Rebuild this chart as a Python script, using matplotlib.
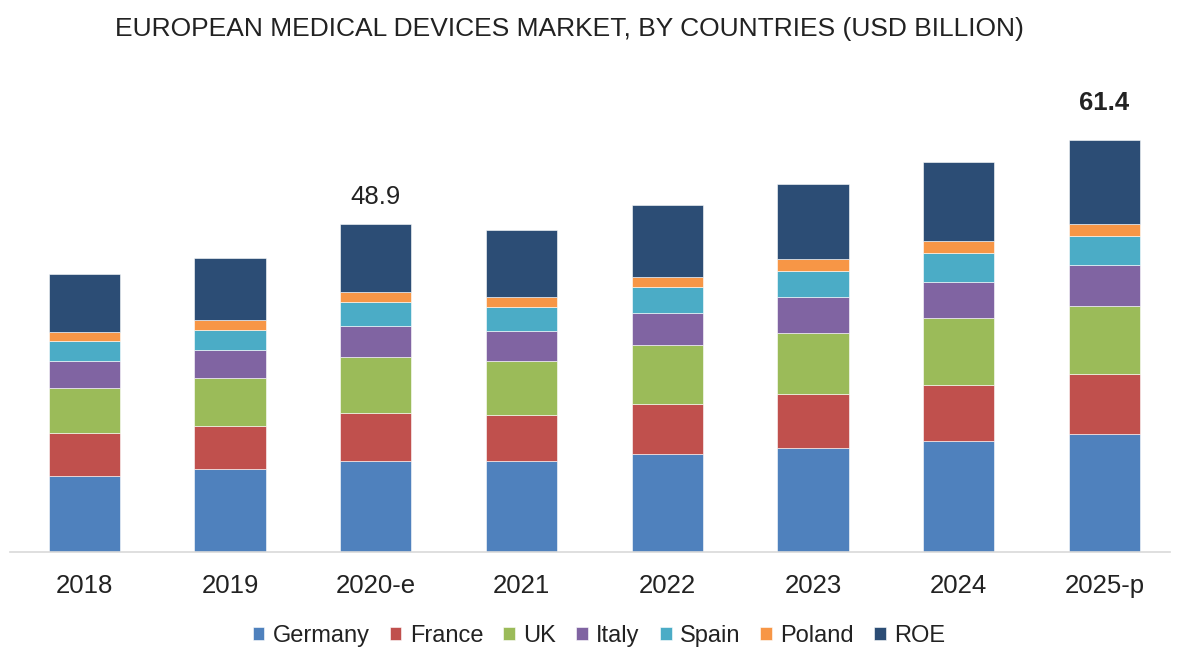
import matplotlib
matplotlib.use("Agg")
import matplotlib.pyplot as plt
from matplotlib import font_manager
import numpy as np

categories = ["2018", "2019", "2020-e", "2021", "2022", "2023", "2024", "2025-p"]
germany = [11.4, 12.3, 13.6, 13.55, 14.6, 15.55, 16.55, 17.55]
france  = [6.3, 6.45, 7.1, 6.85, 7.45, 7.95, 8.3, 8.95]
uk      = [6.8, 7.2, 8.35, 8.05, 8.8, 9.2, 9.95, 10.2]
italy   = [4.0, 4.2, 4.7, 4.5, 4.7, 5.35, 5.45, 6.05]
spain   = [2.9, 3.0, 3.5, 3.5, 3.9, 3.8, 4.3, 4.35]
poland  = [1.4, 1.4, 1.5, 1.55, 1.6, 1.85, 1.75, 1.75]
roe     = [8.7, 9.2, 10.2, 10.0, 10.7, 11.2, 11.85, 12.55]
series_names = ["Germany", "France", "UK", "Italy", "Spain", "Poland", "ROE"]
colors = ["#4F81BD", "#C0504D", "#9BBB59", "#8064A2", "#4BACC6", "#F79646", "#2C4D75"]
annotations = {2: ("48.9", "normal", 19), 7: ("61.4", "bold", 27)}

names = {f.name for f in font_manager.fontManager.ttflist}
fam = "Liberation Sans Narrow" if "Liberation Sans Narrow" in names else "Liberation Sans"
plt.rcParams["font.family"] = [fam, "DejaVu Sans"]

fig = plt.figure(figsize=(11.79, 6.53), dpi=100)
ax = fig.add_axes([10/1179, (653-552)/653, 1160/1179, 472/653])

x = np.arange(len(categories))
data = [germany, france, uk, italy, spain, poland, roe]
bottom = np.zeros(len(categories))
for name, vals, c in zip(series_names, data, colors):
    ax.bar(x, vals, 0.49, bottom=bottom, color=c, label=name,
           edgecolor="white", linewidth=0.4)
    bottom += np.array(vals)

for i, (txt, w, off) in annotations.items():
    ax.annotate(txt, (x[i], bottom[i]), xytext=(0, off), textcoords="offset points",
                ha="center", va="center", fontsize=18.5, fontweight=w, color="#222222")

ax.set_xlim(-0.51, 7.45)
ax.set_ylim(0, 472/6.71)
ax.set_xticks(x)
ax.set_xticklabels(categories, fontsize=18.5, color="#222222")
ax.tick_params(axis="x", length=0, pad=16)
ax.set_yticks([])
for s in ["top", "right", "left"]:
    ax.spines[s].set_visible(False)
ax.spines["bottom"].set_color("#d9d9d9")
ax.spines["bottom"].set_linewidth(1.2)

fig.text(569/1179, 1 - 29/653, "EUROPEAN MEDICAL DEVICES MARKET, BY COUNTRIES (USD BILLION)",
         ha="center", va="center", fontsize=19, color="#222222")

leg = fig.legend(loc="center", bbox_to_anchor=(599/1179, 1 - 636/653), ncol=7,
                 frameon=False, fontsize=17, handlelength=0.5, handleheight=0.5,
                 handletextpad=0.35, columnspacing=0.85)
for t in leg.get_texts():
    t.set_color("#222222")

fig.savefig("out.png", dpi=100)
